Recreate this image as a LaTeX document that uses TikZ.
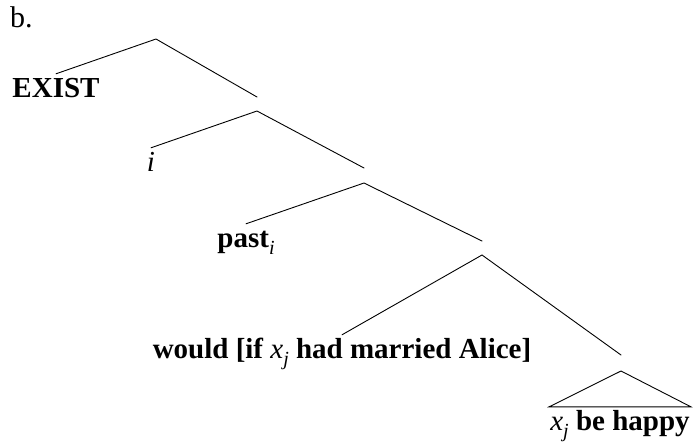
\documentclass[tikz,border=0pt]{standalone}
\usepackage{fontspec}
\setmainfont{Liberation Serif}
\usetikzlibrary{calc}
\newcommand\lowsub[1]{\raisebox{-0.25em}{\fontsize{20}{21}\selectfont\mdseries\textit{#1}}}
\tikzset{
  branch/.style={line width=0.9pt, line cap=round, line join=miter},
  leaf/.style={anchor=base, inner sep=3pt, text height=20pt, text depth=6pt, font=\fontsize{29}{35}\selectfont\bfseries},
}
\begin{document}
\begin{tikzpicture}[x=1pt, y=-1pt]
\useasboundingbox (0,0) rectangle (694,444);
% label
\node[anchor=base west, inner sep=0pt, font=\fontsize{30}{36}\selectfont] (lab) at (10,28) {b.};
% apexes and right-branch ends
\coordinate (n1) at (156,39);
\coordinate (r1) at (257,97);
\coordinate (n2) at (257,111);
\coordinate (r2) at (364,168);
\coordinate (n3) at (364,183);
\coordinate (r3) at (482,241);
\coordinate (n4) at (482,255);
\coordinate (r4) at (621,355);
\coordinate (n5) at (621,371);
% leaves
\node[leaf] (exist) at (56,97) {EXIST};
\node[leaf] (i) at (151,171) {\mdseries\itshape i};
\node[leaf] (past) at (246,247) {past\lowsub{i}};
\node[leaf] (would) at (342,358) {would [if \mdseries\textit{x}\lowsub{j} \bfseries had married Alice]};
\node[leaf, inner xsep=1pt] (happy) at (620,430) {\mdseries\textit{x}\lowsub{j} \bfseries be happy};
% branches
\draw[branch] (exist.north) -- (n1) -- (r1);
\draw[branch] (i.north) -- (n2) -- (r2);
\draw[branch] (past.north) -- (n3) -- (r3);
\draw[branch] (would.north) -- (n4) -- (r4);
\draw[branch] (n5) -- (happy.north west) -- (happy.north east) -- cycle;
\end{tikzpicture}
\end{document}
